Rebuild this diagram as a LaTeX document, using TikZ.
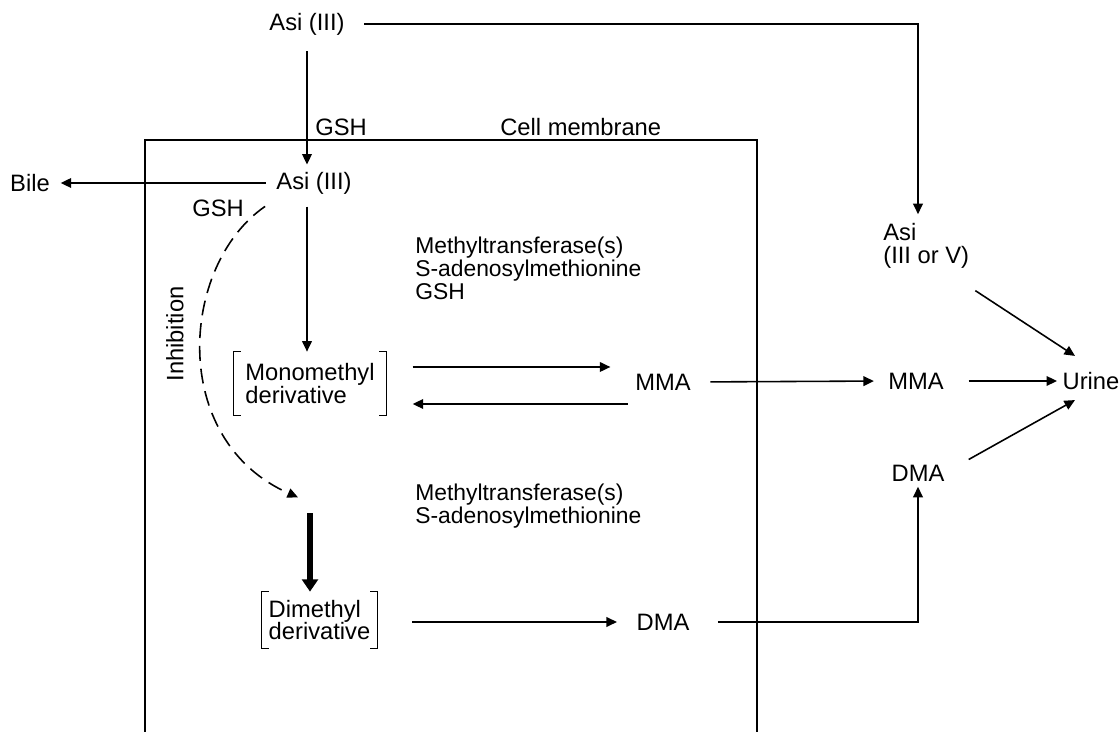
\documentclass[tikz,border=0pt]{standalone}
\usepackage{fontspec}
\setmainfont{Liberation Sans}
\usetikzlibrary{arrows.meta,calc}
\tikzset{
    lbl/.style={inner sep=0pt,font=\fontsize{13.5}{13}\selectfont},
    enzlbl/.style={lbl,align=left,anchor=north west,font=\fontsize{13}{11.6}\selectfont},
    conn/.style={line width=0.9pt,-{Triangle[length=6pt,width=5.5pt]}},
    bigconn/.style={line width=3pt,-{Triangle[length=7pt,width=9pt]}},
    inhib/.style={conn,dash pattern=on 8.5pt off 4.5pt}
}
% square brackets round a node
\newcommand{\brackets}[1]{%
    \draw[line width=0.9pt] ([xshift=4pt]#1.north west) -- (#1.north west) -- (#1.south west) -- ([xshift=4pt]#1.south west);
    \draw[line width=0.9pt] ([xshift=-4pt]#1.north east) -- (#1.north east) -- (#1.south east) -- ([xshift=-4pt]#1.south east);}
\begin{document}
\begin{tikzpicture}[x=0.02cm,y=-0.02cm]
                \useasboundingbox (0,0) rectangle (1120,732);
                \draw[line width=0.9pt] (145,732) -- (145,140) -- (757,140) -- (757,732);
                \node[lbl,anchor=west] (membrane) at (500,127) {Cell membrane};
                \node[lbl] (asiout) at (307,24) {Asi (III)};
                \node[lbl] (asiin) at (314,183) {Asi (III)};
                \node[lbl] (bile) at (30,183) {Bile};
                \node[lbl,anchor=west] (gshtop) at (315,127) {GSH};
                \node[lbl] (gshin) at (218,208) {GSH};
                \node[lbl,rotate=90] (inhibition) at (175,334) {Inhibition};
                \node[lbl,align=left,anchor=north west] (asiv) at (883,223) {Asi\\(III or V)};
                \node[enzlbl] (enz1) at (415,237) {Methyltransferase(s)\\S-adenosylmethionine\\GSH};
                \node[enzlbl] (enz2) at (415,484) {Methyltransferase(s)\\S-adenosylmethionine};
                \node[lbl,align=left,minimum width=3.04cm,minimum height=1.26cm] (mono) at (310,383.5) {Monomethyl\\derivative};
                \node[lbl,align=left,minimum width=2.3cm,minimum height=1.12cm] (dimeth) at (319.5,620) {Dimethyl\\derivative};
                \node[lbl] (mmain) at (663,382) {MMA};
                \node[lbl] (mmaout) at (916,381) {MMA};
                \node[lbl] (dmain) at (663,622) {DMA};
                \node[lbl] (dmaout) at (918,473) {DMA};
                \node[lbl] (urine) at (1091,381) {Urine};
                \brackets{mono}
                \brackets{dimeth}
                \coordinate (dimtop) at ($(mono.south)+(0,98)$);
                \coordinate (mmup) at ($(mono.east)+(0,-16.5)$);
                \coordinate (mmdown) at ($(mono.east)+(0,20.5)$);
                % outside the cell
                \draw[conn,shorten <=11pt,shorten >=5pt] (asiout.east) -| (asiv.north west -| dmaout);
                \draw[conn,shorten <=9pt,shorten >=4pt] (asiout.south) -- (asiout.south |- asiin.north);
                \draw[conn,shorten <=6pt,shorten >=6pt] (asiin.west) -- (bile.east);
                \draw[conn,shorten <=14pt,shorten >=3pt] (mmaout.east) -- (urine.west);
                \draw[conn] ($(asiv.south east)+(6,22)$) -- ($(urine.north)+(-16,-16)$);
                \draw[conn] ($(dmaout.north east)+(24,-5)$) -- ($(urine.south)+(-16,10)$);
                \draw[conn,shorten <=16pt,shorten >=3pt] (dmain.east) -| (dmaout.south);
                \draw[conn,shorten <=11pt,shorten >=8pt] (mmain.east) -- (mmaout.west);
                % inside the cell
                \draw[conn,shorten <=7pt] (asiin.south -| asiout) -- (mono.north -| asiout);
                \draw[conn,shorten <=15pt,shorten >=14pt] (mmup) -- (mmup -| mmain.west);
                \draw[conn,shorten <=4pt,shorten >=15pt] (mmdown -| mmain.west) -- (mmdown);
                \draw[bigconn] (dimtop) -- (dimeth.north -| dimtop);
                \draw[conn,shorten <=20pt,shorten >=11pt] (dimeth.east |- dmain) -- (dmain.west);
                \draw[inhib] ($(asiin.south west)+(-11,12)$) .. controls (180,265) and (168,440) .. ($(dimtop)+(-12,-16)$);
            \end{tikzpicture}
\end{document}
